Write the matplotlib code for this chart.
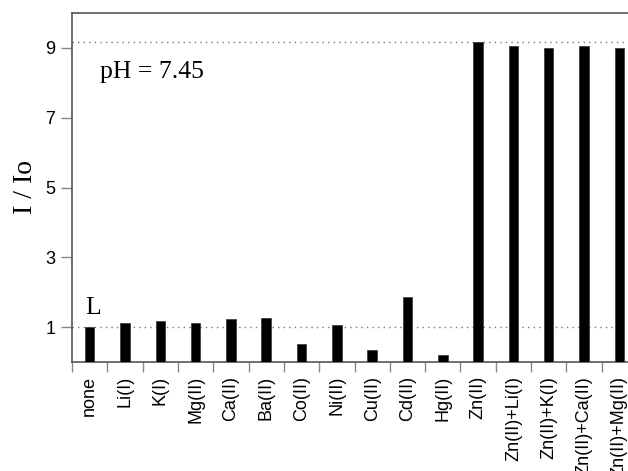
import numpy as np
from matplotlib import pyplot as plt
from matplotlib.ticker import FixedLocator

# metal ions added to the ligand solution
ions = ['none', 'Li(I)', 'K(I)', 'Mg(II)', 'Ca(II)', 'Ba(II)', 'Co(II)', 'Ni(II)',
        'Cu(II)', 'Cd(II)', 'Hg(II)', 'Zn(II)', 'Zn(II)+Li(I)', 'Zn(II)+K(I)',
        'Zn(II)+Ca(II)', 'Zn(II)+Mg(II)']
# relative fluorescence intensity I / Io
ratio = [1.0, 1.12, 1.18, 1.12, 1.24, 1.27, 0.51, 1.06,
         0.34, 1.87, 0.20, 9.18, 9.05, 9.0, 9.05, 9.0]

SPINE = '#555555'

fig = plt.figure(figsize=(6.28, 4.71), dpi=100)
# axes runs a little past the right edge of the figure
ax = fig.add_axes([72 / 628, 109 / 471, 565 / 628, 349 / 471])

x = np.arange(len(ions))
ax.bar(x, ratio, width=0.27, color='black', edgecolor='#333333', linewidth=0.5, zorder=3)

# reference levels: free ligand and Zn(II) response
for level in (ratio[0], ratio[11]):
    ax.axhline(level, color='#777777', linestyle=(0, (1, 3)), linewidth=1.0, zorder=1)

ax.set_xlim(-0.5, len(ions) - 0.5)
ax.set_ylim(0, 10)

ax.yaxis.set_major_locator(FixedLocator([1, 3, 5, 7, 9]))
ax.tick_params(axis='y', direction='out', length=8, width=1, color='#888888', pad=4,
               labelsize=13, labelfontfamily='Liberation Sans')

ax.xaxis.set_major_locator(FixedLocator(x))
ax.set_xticklabels(ions, rotation=90, fontfamily='Liberation Sans', fontsize=13)
ax.xaxis.set_minor_locator(FixedLocator(np.arange(-0.5, len(ions), 1)))
ax.tick_params(axis='x', which='major', length=0, pad=10)
ax.tick_params(axis='x', which='minor', direction='out', length=7.5, width=1, color='#888888')

for side in ('left', 'bottom', 'top', 'right'):
    ax.spines[side].set_color(SPINE)
    ax.spines[side].set_linewidth(1.2)

ax.set_ylabel('I / Io', fontfamily='Liberation Serif', fontsize=20, labelpad=5)

ax.text(100 / 628, 393 / 471, 'pH = 7.45', transform=fig.transFigure,
        fontfamily='Liberation Serif', fontsize=18.5, ha='left', va='baseline')
ax.text(85 / 628, 157 / 471, 'L', transform=fig.transFigure,
        fontfamily='Liberation Serif', fontsize=18.5, ha='left', va='baseline')

fig.savefig('out.png', dpi=100)
